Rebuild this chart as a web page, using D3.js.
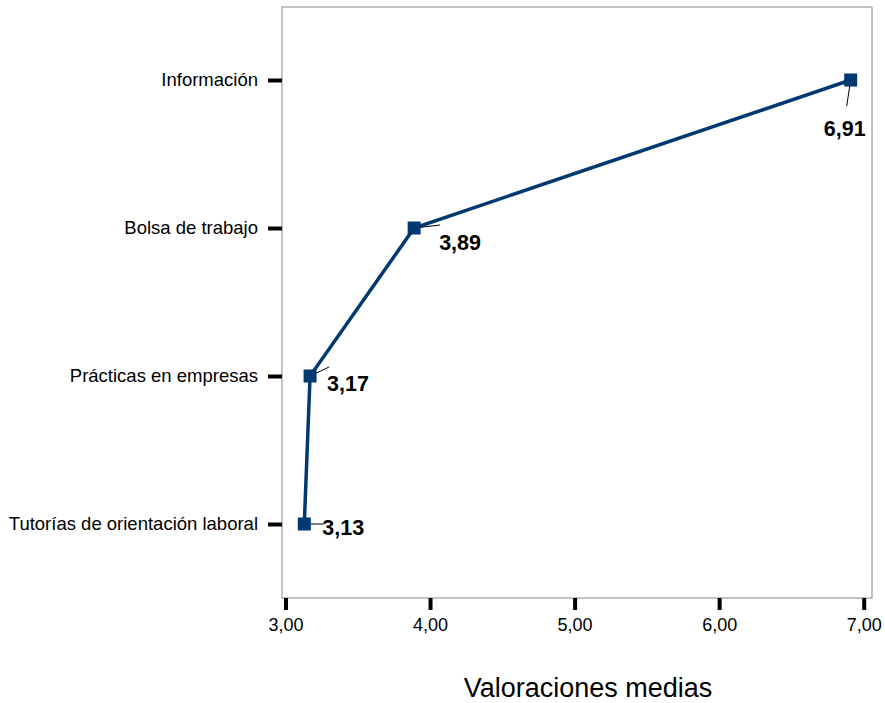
<!DOCTYPE html>
<html>
<head>
<meta charset="utf-8">
<script src="https://cdn.jsdelivr.net/npm/d3@7"></script>
<style>
  body { margin: 0; background: #fff; }
  text { font-family: "Liberation Sans", Arial, sans-serif; }
</style>
</head>
<body>
<div id="chart"></div>
<script>
var categories = ["Información", "Bolsa de trabajo", "Prácticas en empresas", "Tutorías de orientación laboral"];
var values = [6.91, 3.89, 3.17, 3.13];
var labels = ["6,91", "3,89", "3,17", "3,13"];
var xTicks = [3, 4, 5, 6, 7];
var fmt = function(d) { return d.toFixed(2).replace(".", ","); };

// label offsets relative to point (leader end, text anchor)
var labelPos = [
    {lx: -4, ly: 26, tx: -6, ty: 56, anchor: "middle"},
    {lx: 26, ly: -3, tx: 25, ty: 22, anchor: "start"},
    {lx: 19, ly: -9, tx: 17, ty: 15, anchor: "start"},
    {lx: 19, ly: 0, tx: 18, ty: 11, anchor: "start"}
];

var width = 885, height = 703;
var frame = {left: 282, right: 872, top: 7, bottom: 598};

var svg = d3.select("#chart").append("svg")
    .attr("width", width)
    .attr("height", height);

var x = d3.scaleLinear()
    .domain([3, 7])
    .range([285.5, 863.7]);

var y = d3.scalePoint()
    .domain(categories)
    .range([80, 524]);

svg.append("rect")
    .attr("x", frame.left)
    .attr("y", frame.top)
    .attr("width", frame.right - frame.left)
    .attr("height", frame.bottom - frame.top)
    .attr("fill", "none")
    .attr("stroke", "#888")
    .attr("stroke-width", 1);

// x axis
var xAxis = svg.append("g")
    .attr("transform", "translate(0," + frame.bottom + ")")
    .call(d3.axisBottom(x).tickValues(xTicks).tickFormat(fmt).tickSize(12).tickPadding(8));
xAxis.select(".domain").remove();
xAxis.attr("font-size", null).attr("font-family", null);
xAxis.selectAll(".tick line").attr("stroke", "#000").attr("stroke-width", 4);
xAxis.selectAll(".tick text").style("font-size", "18px").attr("fill", "#000");

// y axis
var yAxis = svg.append("g")
    .attr("transform", "translate(" + frame.left + ",0)")
    .call(d3.axisLeft(y).tickSize(14).tickPadding(10));
yAxis.select(".domain").remove();
yAxis.attr("font-size", null).attr("font-family", null);
yAxis.selectAll(".tick line").attr("stroke", "#000").attr("stroke-width", 4);
yAxis.selectAll(".tick text").style("font-size", "18.5px").attr("fill", "#000");

svg.append("text")
    .attr("x", 588)
    .attr("y", 697)
    .attr("text-anchor", "middle")
    .style("font-size", "27px")
    .text("Valoraciones medias");

var data = categories.map(function(c, i) { return {name: c, value: values[i], label: labels[i], pos: labelPos[i]}; });

var line = d3.line()
    .x(function(d) { return x(d.value); })
    .y(function(d) { return y(d.name); });

svg.append("path")
    .datum(data)
    .attr("d", line)
    .attr("fill", "none")
    .attr("stroke", "#003870")
    .attr("stroke-width", 3.5);

svg.selectAll(".leader")
    .data(data)
    .enter().append("line")
    .attr("x1", function(d) { return x(d.value); })
    .attr("y1", function(d) { return y(d.name); })
    .attr("x2", function(d) { return x(d.value) + d.pos.lx; })
    .attr("y2", function(d) { return y(d.name) + d.pos.ly; })
    .attr("stroke", "#000")
    .attr("stroke-width", 1);

svg.selectAll(".pt")
    .data(data)
    .enter().append("rect")
    .attr("x", function(d) { return x(d.value) - 6.5; })
    .attr("y", function(d) { return y(d.name) - 6.5; })
    .attr("width", 13)
    .attr("height", 13)
    .attr("fill", "#003870");

svg.selectAll(".lbl")
    .data(data)
    .enter().append("text")
    .attr("x", function(d) { return x(d.value) + d.pos.tx; })
    .attr("y", function(d) { return y(d.name) + d.pos.ty; })
    .attr("text-anchor", function(d) { return d.pos.anchor; })
    .style("font-size", "21.5px")
    .attr("font-weight", "bold")
    .text(function(d) { return d.label; });
</script>
</body>
</html>
